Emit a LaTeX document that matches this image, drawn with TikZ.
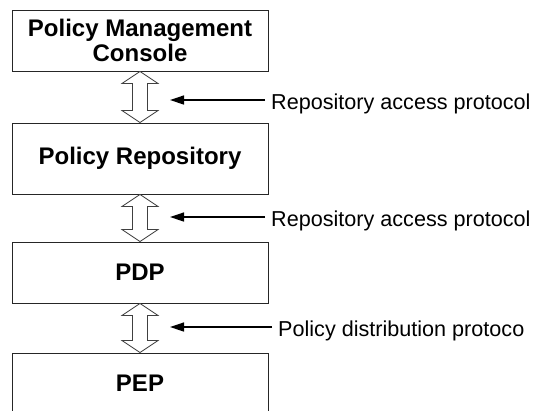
\documentclass[tikz,border=0pt]{standalone}
\usepackage{fontspec}
\setmainfont{Liberation Sans}
\usetikzlibrary{arrows.meta,calc}
\begin{document}
\begin{tikzpicture}[x=1bp,y=-1bp,
  box/.style={draw=black!85, line width=0.9bp, minimum width=256bp, inner sep=0pt,
    font=\fontsize{24bp}{25bp}\selectfont\bfseries, align=center},
  lbl/.style={inner sep=0pt, anchor=west, text height=18bp, text depth=0pt,
    font=\fontsize{21.6bp}{26bp}\selectfont},
  ptr/.style={-{Triangle[length=14bp,width=9bp]}, line width=1.3bp},
  dbl/.style={draw=black!75, line width=0.8bp, fill=white}]
\useasboundingbox (0,0) rectangle (535,410);
\begin{scope}
\clip (0,0) rectangle (535,410);
\node[box, minimum height=61bp] (pmc) at (140,40.5) {Policy Management\\Console};
\node[box, minimum height=71bp] (rep) at (140,158.5) {Policy Repository};
\node[box, minimum height=61bp] (pdp) at (140,272.5) {PDP};
\node[box, minimum height=60bp] (pep) at (140,383) {PEP};
\end{scope}
\foreach \a/\b in {pmc/rep, rep/pdp, pdp/pep}{
  \draw[dbl] let \p1=(\a.south), \p2=(\b.north) in
    (\x1,\y1) -- (\x1+18bp,\y1-12bp) -- (\x1+7.5bp,\y1-12bp) -- (\x1+7.5bp,\y2+12bp)
    -- (\x1+18bp,\y2+12bp) -- (\x1,\y2) -- (\x1-18bp,\y2+12bp) -- (\x1-7.5bp,\y2+12bp)
    -- (\x1-7.5bp,\y1-12bp) -- (\x1-18bp,\y1-12bp) -- cycle;
}
\node[lbl] (l1) at (271,100) {Repository access protocol};
\node[lbl] (l2) at (271,217) {Repository access protocol};
\node[lbl] (l3) at (278,327) {Policy distribution protoco};
\coordinate (t1) at (170,100);
\coordinate (t2) at (170,217);
\coordinate (t3) at (170,327);
\draw[ptr] ([xshift=-6bp]l1.west) -- (t1);
\draw[ptr] ([xshift=-6bp]l2.west) -- (t2);
\draw[ptr] ([xshift=-6bp]l3.west) -- (t3);
\end{tikzpicture}
\end{document}
